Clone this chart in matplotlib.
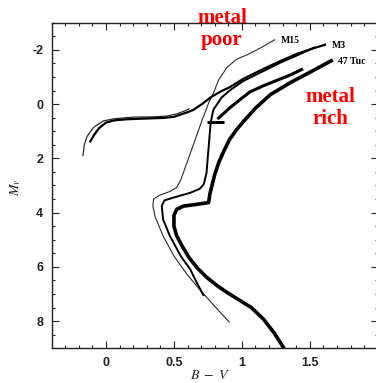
import matplotlib
matplotlib.use("Agg")
import matplotlib.pyplot as plt
from matplotlib.ticker import MultipleLocator, FixedLocator, FixedFormatter

# ---- data (B-V, M_V) ----
m15_bv = [0.91, 0.80, 0.70, 0.60, 0.50, 0.42, 0.36, 0.345, 0.35, 0.39, 0.47, 0.52,
          0.55, 0.63, 0.71, 0.76, 0.79, 0.83, 0.89, 0.96, 1.04, 1.13, 1.245]
m15_mv = [8.05, 7.45, 6.90, 6.30, 5.60, 4.86, 4.13, 3.75, 3.50, 3.37, 3.22, 3.07,
          2.80, 1.68, 0.55, -0.10, -0.40, -0.90, -1.35, -1.65, -1.82, -2.05, -2.38]

m15_hb_bv = [-0.17, -0.16, -0.14, -0.09, -0.02, 0.06, 0.20, 0.35, 0.45, 0.52, 0.57, 0.615]
m15_hb_mv = [1.92, 1.50, 1.19, 0.85, 0.62, 0.54, 0.48, 0.47, 0.44, 0.36, 0.27, 0.17]

m3_bv = [0.72, 0.67, 0.62, 0.55, 0.47, 0.42, 0.41, 0.43, 0.50, 0.62, 0.69, 0.72,
         0.74, 0.75, 0.76, 0.77, 0.79, 0.85, 0.91, 1.01, 1.16, 1.28, 1.40, 1.54]
m3_mv = [7.07, 6.60, 6.09, 5.60, 4.86, 4.25, 3.76, 3.55, 3.44, 3.27, 3.12, 2.95,
         2.53, 1.90, 1.31, 0.69, 0.21, -0.24, -0.50, -0.85, -1.22, -1.52, -1.78, -2.10]

m3_hb_bv = [-0.12, -0.09, -0.05, 0.00, 0.06, 0.15, 0.30, 0.42, 0.50, 0.546, 0.60, 0.644,
            0.70, 0.78, 0.85, 0.91, 1.01, 1.16, 1.28, 1.40, 1.51, 1.62]
m3_hb_mv = [1.41, 1.15, 0.88, 0.68, 0.60, 0.56, 0.53, 0.51, 0.47, 0.39, 0.30, 0.21,
            0.02, -0.28, -0.48, -0.62, -0.93, -1.30, -1.58, -1.84, -2.03, -2.20]

tuc_bv = [1.33, 1.306, 1.24, 1.16, 1.07, 0.99, 0.90, 0.82, 0.74, 0.67, 0.61, 0.56,
          0.52, 0.50, 0.50, 0.52, 0.57, 0.66, 0.755, 0.765, 0.78, 0.80, 0.83, 0.87,
          0.91, 0.96, 1.01, 1.10, 1.21, 1.36, 1.50, 1.67]
tuc_mv = [9.20, 8.97, 8.45, 7.93, 7.50, 7.25, 6.97, 6.70, 6.38, 6.03, 5.65, 5.23,
          4.85, 4.50, 4.10, 3.88, 3.76, 3.70, 3.63, 3.30, 3.00, 2.60, 2.15, 1.70,
          1.30, 0.95, 0.65, 0.15, -0.35, -0.80, -1.17, -1.63]

tuc_agb_bv = [0.82, 0.87, 0.91, 1.00, 1.06, 1.16, 1.26, 1.36, 1.45]
tuc_agb_mv = [0.55, 0.33, 0.14, -0.22, -0.45, -0.68, -0.88, -1.08, -1.30]

tuc_clump_bv = [0.74, 0.865]
tuc_clump_mv = [0.66, 0.66]

cluster_names = ["M15", "M3", "47 Tuc"]
x_ticks = [0, 0.5, 1, 1.5]
x_ticklabels = ["0", "0.5", "1", "1.5"]
y_ticks = [-2, 0, 2, 4, 6, 8]
y_ticklabels = ["-2", "0", "2", "4", "6", "8"]

# ---- figure ----
plt.rcParams['mathtext.fontset'] = 'stix'
plt.rcParams['axes.unicode_minus'] = False

W, H = 376, 383
fig = plt.figure(figsize=(W / 100, H / 100), dpi=100)
fig.patch.set_facecolor('white')
ax = fig.add_axes([51.7 / W, 34.7 / H, 326.0 / W, 325.6 / H])
ax.set_xlim(-0.4, 2.0)
ax.set_ylim(9, -3)

kw = dict(solid_joinstyle='round', solid_capstyle='butt', clip_on=True)
ax.plot(m15_bv, m15_mv, color='#2a2a2a', lw=0.8, **kw)
ax.plot(m15_hb_bv, m15_hb_mv, color='#2a2a2a', lw=0.9, **kw)
ax.plot(m3_bv, m3_mv, color='black', lw=1.4, **kw)
ax.plot(m3_hb_bv, m3_hb_mv, color='black', lw=1.6, **kw)
ax.plot(tuc_agb_bv, tuc_agb_mv, color='black', lw=2.2, **kw)
ax.plot(tuc_clump_bv, tuc_clump_mv, color='black', lw=2.2, **kw)
ax.plot(tuc_bv, tuc_mv, color='black', lw=2.6, **kw)

lab_kw = dict(fontsize=7, family='Liberation Serif', weight='bold', va='center', ha='left')
ax.text(m15_bv[-1] + 0.04, m15_mv[-1] + 0.02, cluster_names[0], **lab_kw)
ax.text(m3_hb_bv[-1] + 0.04, m3_hb_mv[-1] + 0.05, cluster_names[1], **lab_kw)
ax.text(tuc_bv[-1] + 0.04, tuc_mv[-1] + 0.07, cluster_names[2], **lab_kw)

# ticks
ax.xaxis.set_major_locator(FixedLocator(x_ticks + [2.0]))
ax.xaxis.set_major_formatter(FixedFormatter(x_ticklabels + [""]))
ax.xaxis.set_minor_locator(MultipleLocator(0.1))
ax.yaxis.set_major_locator(FixedLocator(y_ticks))
ax.yaxis.set_major_formatter(FixedFormatter(y_ticklabels))
ax.yaxis.set_minor_locator(MultipleLocator(0.5))
ax.tick_params(which='both', direction='in', top=True, right=True, width=0.8, color='#222222')
ax.tick_params(which='major', length=5)
ax.tick_params(which='minor', length=2.5)
ax.tick_params(axis='x', which='major', pad=6.0)
ax.tick_params(axis='y', which='major', pad=6)
for lbl in ax.get_xticklabels() + ax.get_yticklabels():
    lbl.set_family('Liberation Sans')
    lbl.set_weight('bold')
    lbl.set_fontsize(9)
    lbl.set_color('#222222')
for s in ax.spines.values():
    s.set_linewidth(1.0)
    s.set_color('#222222')

fig.text(16 / W, 1 - 187 / H, r'$M_v$', rotation=90, ha='center', va='center',
         fontsize=10, color='#222222')
fig.text(210 / W, 1 - 375 / H, r'$B\ -\ V$', ha='center', va='center',
         fontsize=10, color='#222222')

red_kw = dict(family='Liberation Serif', weight='bold', fontsize=15, color='#ff0000',
              ha='center', va='center', linespacing=1.1)
fig.text(222 / W, 1 - 29 / H, "metal\npoor", **red_kw)
fig.text(330 / W, 1 - 108 / H, "metal\nrich", **red_kw)

fig.savefig('out.png', dpi=100, facecolor='white')
